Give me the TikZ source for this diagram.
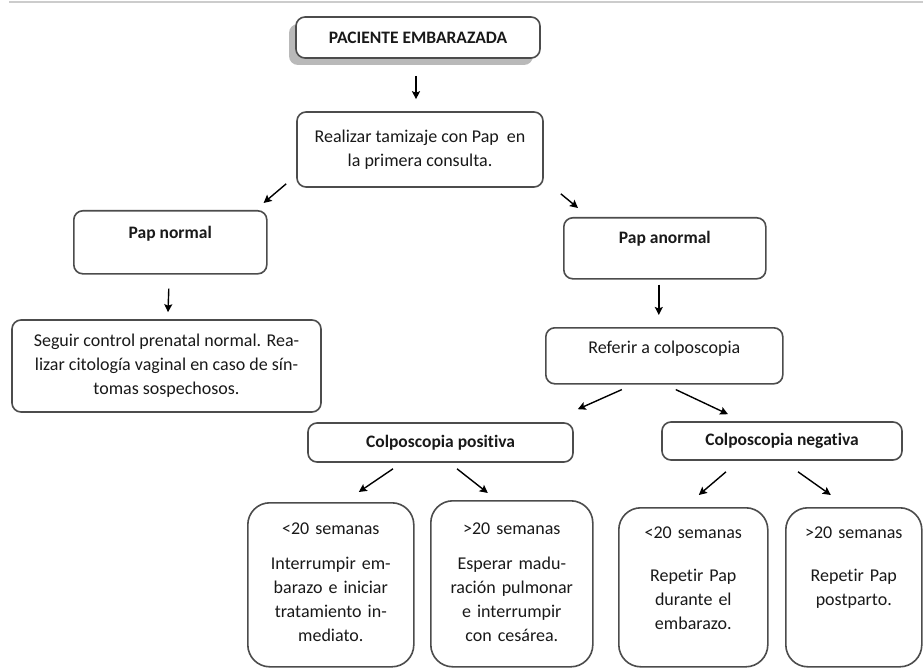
\documentclass[tikz,border=0pt]{standalone}
\usepackage{fontspec}
\setmainfont{Carlito}[Ligatures=NoCommon]
\usepackage{tikz}
\usetikzlibrary{arrows.meta, positioning, shadows}
\definecolor{boxgray}{gray}{0.30}
\definecolor{rulegray}{gray}{0.80}
\definecolor{txtgray}{gray}{0.10}

\tikzset{
	caja/.style={draw=boxgray, line width=1.6pt, rounded corners=9pt, fill=white, inner sep=0pt, text=txtgray, font=\fontsize{18}{24}\selectfont, align=center},
	titulo/.style={font=\fontsize{17.5}{24}\selectfont\bfseries},
	semanas/.style={caja, rounded corners=22pt, anchor=north west},
	flecha/.style={-{Stealth[length=8pt, width=8pt, inset=1.5pt]}, line width=1.4pt}
}

\begin{document}
\begin{tikzpicture}[x=1pt, y=-1pt]

\fill[white] (0,0) rectangle (923,668);
\useasboundingbox (0,0) rectangle (923,668);

\draw[rulegray, line width=2pt] (9,2.5) -- (923,2.5); % top rule

% first level
\node[caja, titulo, minimum width=244pt, minimum height=41pt, drop shadow={shadow xshift=-7pt, shadow yshift=-7pt, fill=gray!55, opacity=1}] (paciente) at (418,37.5) {PACIENTE EMBARAZADA};
\node[caja, minimum width=246pt, minimum height=75pt] (tamizaje) at (420,149.5) {Realizar tamizaje con Pap\ \ en\\la primera consulta.};

% left branch
\node[caja, titulo, anchor=north west, minimum width=193pt, text height=28pt, text depth=35pt] (normal) at (73,210) {Pap normal};
\node[caja, minimum width=309pt, minimum height=92pt] (control) at (166.5,366) {Seguir control prenatal normal. Rea-\\lizar citología vaginal en caso de sín-\\tomas sospechosos.};

% right branch
\node[caja, titulo, anchor=north west, minimum width=202pt, text height=26pt, text depth=35pt] (anormal) at (563,217) {Pap anormal};
\node[caja, anchor=north west, minimum width=237pt, text height=26pt, text depth=30pt] (referir) at (545,327) {Referir a colposcopia};
\node[caja, titulo, minimum width=265pt, minimum height=39pt] (positiva) at (440.5,442.5) {Colposcopia positiva};
\node[caja, titulo, minimum width=240pt, minimum height=38pt] (negativa) at (782,441) {Colposcopia negativa};

% weeks
\node[semanas, minimum width=166pt, text width=150pt, text height=32pt, text depth=132pt] (pmenos) at (247,502) {<20 semanas\\[11pt]Interrumpir em-\\barazo e iniciar\\tratamiento in-\\mediato.};
\node[semanas, minimum width=162pt, text width=150pt, text height=34pt, text depth=132pt] (pmas) at (430,500) {>20 semanas\\[11pt]Esperar madu-\\ración pulmonar\\e interrumpir\\con cesárea.};
\node[semanas, minimum width=149pt, text width=135pt, text height=31pt, text depth=128pt] (nmenos) at (618,507) {<20 semanas\\[19pt]Repetir Pap\\durante el\\embarazo.};
\node[semanas, minimum width=136pt, text width=125pt, text height=31pt, text depth=128pt] (nmas) at (785,507) {>20 semanas\\[19pt]Repetir Pap\\postparto.};

% arrows
\draw[flecha] ([shift={(-2,17)}]paciente.south) -- ([shift={(-4,-12)}]tamizaje.north);
\draw[flecha] ([shift={(-10,-4)}]tamizaje.south west) -- ([shift={(-4,-7)}]normal.north east);
\draw[flecha] ([shift={(17,6)}]tamizaje.south east) -- ([shift={(15,-9)}]anormal.north west);
\draw[flecha] ([shift={(-1.5,14)}]normal.south) -- ([shift={(1.5,-7)}]control.north);
\draw[flecha] ([shift={(-6,5)}]anormal.south) -- ([shift={(-5.5,-12)}]referir.north);
\draw[flecha] ([shift={(-42.5,5)}]referir.south) -- ([shift={(4,-13)}]positiva.north east);
\draw[flecha] ([shift={(11.5,5)}]referir.south) -- ([shift={(-54,-7)}]negativa.north);
\draw[flecha] ([shift={(-47.5,6)}]positiva.south) -- ([shift={(28,-10)}]pmenos.north);
\draw[flecha] ([shift={(16.5,6)}]positiva.south) -- ([shift={(-24,-7)}]pmas.north);
\draw[flecha] ([shift={(-56,11)}]negativa.south) -- ([shift={(5.5,-12)}]nmenos.north);
\draw[flecha] ([shift={(16,11)}]negativa.south) -- ([shift={(-23,-12)}]nmas.north);

\end{tikzpicture}
\end{document}
